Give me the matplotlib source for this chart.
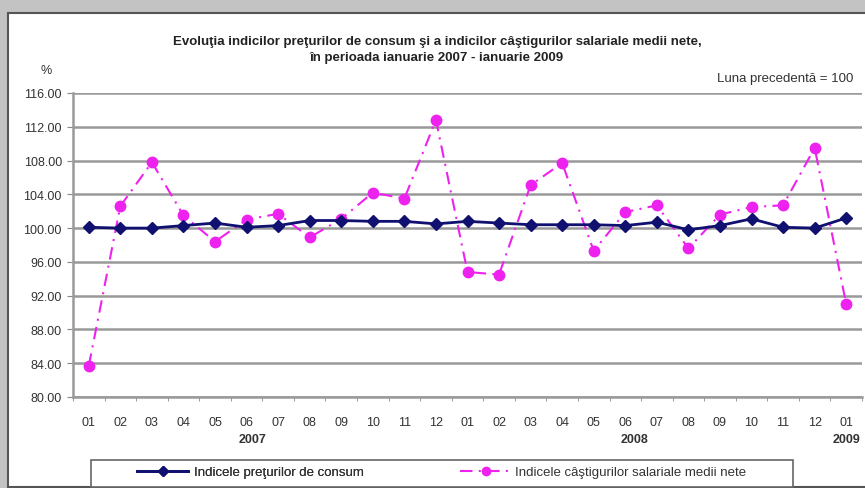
import matplotlib
matplotlib.use("Agg")
import matplotlib.pyplot as plt
from matplotlib.patches import Rectangle
from matplotlib.lines import Line2D

plt.rcParams['font.family'] = ['Liberation Sans', 'DejaVu Sans']

# ---------------------------
# Data
# ---------------------------
months = ['01', '02', '03', '04', '05', '06', '07', '08', '09', '10', '11', '12',
          '01', '02', '03', '04', '05', '06', '07', '08', '09', '10', '11', '12',
          '01']
years = ['2007', '2008', '2009']
year_pos = [5.2, 17.3, 24]

cpi = [100.1, 100.0, 100.0, 100.3, 100.6, 100.1, 100.3, 100.9, 100.9, 100.8, 100.8, 100.5,
       100.8, 100.6, 100.4, 100.4, 100.4, 100.3, 100.7, 99.8, 100.3, 101.1, 100.1, 100.0,
       101.2]
wages = [83.7, 102.6, 107.8, 101.5, 98.4, 101.0, 101.7, 98.9, 101.1, 104.2, 103.5, 112.8,
         94.8, 94.5, 105.1, 107.7, 97.3, 101.9, 102.7, 97.6, 101.6, 102.5, 102.7, 109.5,
         91.0]

title = ("Evoluţia indicilor preţurilor de consum şi a indicilor câştigurilor salariale medii nete,\n"
         "în perioada ianuarie 2007 - ianuarie 2009")
label_cpi = "Indicele preţurilor de consum"
label_wages = "Indicele câştigurilor salariale medii nete"

# ---------------------------
# Figure
# ---------------------------
W, H = 865, 489
fig = plt.figure(figsize=(W / 100, H / 100), dpi=100, facecolor='#c3c3c3')

def fx(px):
    return px / W

def fy(py):
    return 1 - py / H

# white chart panel
fig.patches.append(Rectangle((fx(8), fy(488)), fx(870) - fx(8), fy(14) - fy(488),
                             transform=fig.transFigure, facecolor='white',
                             edgecolor='#555555', linewidth=1.5, zorder=0))

ax = fig.add_axes([fx(73), fy(398), fx(862) - fx(73), fy(94) - fy(398)])
ax.set_zorder(2)
ax.patch.set_alpha(0)
x = list(range(len(months)))

ax.plot(x, wages, color='#ee22ee', linestyle=(0, (6, 3, 1, 3)), linewidth=1.5,
        marker='o', markersize=7.5, markeredgecolor='#ee22ee', zorder=3, clip_on=False)
ax.plot(x, cpi, color='#101070', linewidth=2, marker='D', markersize=6, zorder=4)

ax.set_xlim(-0.5, len(months) - 0.5)
ax.set_ylim(80, 116)
ax.set_yticks(range(80, 117, 4))
ax.set_yticklabels([f"{v:.2f}" for v in range(80, 117, 4)], fontsize=9, color='#333333')
ax.yaxis.grid(True, color='#999999', linewidth=1.8)
ax.set_axisbelow(True)

ax.set_xticks(x)
ax.set_xticklabels(months, fontsize=9, color='#333333')
ax.set_xticks([i - 0.5 for i in range(len(months) + 1)], minor=True)
ax.tick_params(axis='x', which='major', length=0, pad=14)
ax.tick_params(axis='x', which='minor', length=3, color='#888888', direction='out')
ax.tick_params(axis='y', length=4, color='#888888', pad=4)

for s in ['top', 'right']:
    ax.spines[s].set_visible(False)
for s in ['left', 'bottom']:
    ax.spines[s].set_color('#999999')
    ax.spines[s].set_linewidth(1.8)

for yr, pos in zip(years, year_pos):
    ax.text(pos, -0.138, yr, transform=ax.get_xaxis_transform(), ha='center', va='center',
            fontsize=9, fontweight='bold', color='#333333')

# texts
fig.text(fx(437), fy(50), title, ha='center', va='center', fontsize=9.5,
         fontweight='bold', color='#222222', linespacing=1.45)
fig.text(fx(46), fy(71), '%', ha='center', va='center', fontsize=9, color='#333333')
fig.text(fx(853), fy(79), 'Luna precedentă = 100', ha='right', va='center',
         fontsize=9.5, color='#333333')

# legend box
fig.patches.append(Rectangle((fx(91), fy(488)), fx(793) - fx(91), fy(461) - fy(488),
                             transform=fig.transFigure, facecolor='white',
                             edgecolor='#666666', linewidth=1.2, zorder=1))
h1 = Line2D([], [], color='#101070', linewidth=2, marker='D', markersize=5)
h2 = Line2D([], [], color='#ee22ee', linestyle=(0, (6, 3, 1, 3)), linewidth=1.5,
            marker='o', markersize=6)
leg1 = fig.legend([h1], [label_cpi], loc='center left',
                  bbox_to_anchor=(fx(137), fy(473)), frameon=False, fontsize=9.5,
                  handlelength=3.9, handletextpad=0.45, borderaxespad=0,
                  borderpad=0, labelcolor='#333333')
fig.legend([h2], [label_wages], loc='center left',
           bbox_to_anchor=(fx(460), fy(473)), frameon=False, fontsize=9.5,
           handlelength=4.0, handletextpad=0.2, borderaxespad=0,
           borderpad=0, labelcolor='#333333')
fig.add_artist(leg1)

fig.savefig('out.png', dpi=100, facecolor=fig.get_facecolor())
